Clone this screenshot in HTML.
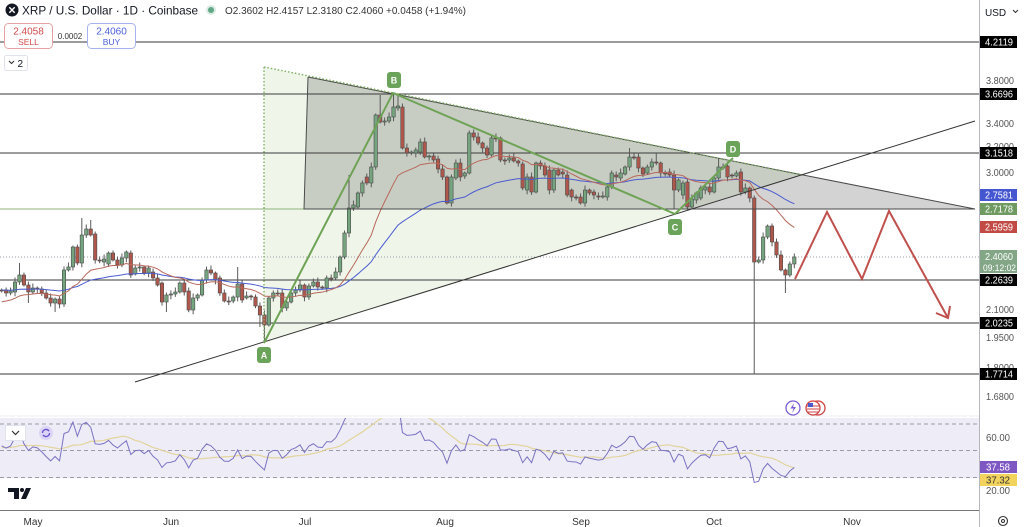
<!DOCTYPE html>
<html><head><meta charset="utf-8">
<style>
html,body{margin:0;padding:0;background:#fff;}
body{width:1024px;height:527px;overflow:hidden;position:relative;font-family:"Liberation Sans",sans-serif;}
svg{position:absolute;left:0;top:0;}
</style></head><body>
<svg id="s" width="1024" height="527" viewBox="0 0 1024 527" xmlns="http://www.w3.org/2000/svg" font-family="'Liberation Sans', sans-serif">
<defs>
<clipPath id="cm"><rect x="0" y="0" width="979" height="412"/></clipPath>
<clipPath id="cr"><rect x="0" y="418" width="979" height="92"/></clipPath>
</defs>
<rect x="0" y="0" width="1024" height="527" fill="#fff"/>
<!-- triangles fills -->
<polygon points="264,67 264,343 802,175" fill="rgba(140,190,100,0.14)"/>
<polygon points="308,77 975,209 304,209" fill="rgba(110,110,110,0.30)"/>
<!-- price dotted line -->
<line x1="0" y1="257" x2="979" y2="257" stroke="#9aa0a8" stroke-width="1" stroke-dasharray="1 2"/>
<!-- horizontal levels -->
<g stroke="#3a3a3a" stroke-width="1">
<line x1="0" y1="42" x2="979" y2="42"/>
<line x1="0" y1="94" x2="979" y2="94"/>
<line x1="0" y1="153" x2="979" y2="153"/>
<line x1="0" y1="280" x2="979" y2="280"/>
<line x1="0" y1="323" x2="979" y2="323"/>
<line x1="0" y1="374" x2="979" y2="374"/>
</g>
<line x1="0" y1="209" x2="304" y2="209" stroke="#8fb27a" stroke-width="1"/>
<!-- candles & MAs -->
<g id="cd" clip-path="url(#cm)"></g>
<g id="ma" clip-path="url(#cm)"></g>
<!-- triangle edges -->
<g stroke="#4a4a4a" stroke-width="1" fill="none">
<polyline points="308,77 975,209 304,209 308,77"/>
</g>
<line x1="264" y1="67" x2="802" y2="175" stroke="#7fae62" stroke-width="1.4" stroke-dasharray="1.5 2"/>
<line x1="264" y1="67" x2="264" y2="343" stroke="#7fae62" stroke-width="1.4" stroke-dasharray="1.5 2"/>
<line x1="135" y1="382" x2="975" y2="121" stroke="#333" stroke-width="1"/>
<!-- ABCD -->
<polyline points="264,343 393,93 675,214 733,158" fill="none" stroke="#6ea356" stroke-width="2"/>
<g font-size="9" font-weight="bold" fill="#fff" text-anchor="middle">
<rect x="257" y="347" width="14" height="16" rx="3" fill="#6ca35a"/><text x="264" y="358.5">A</text>
<rect x="387" y="72" width="14" height="16" rx="3" fill="#6ca35a"/><text x="394" y="83.5">B</text>
<rect x="668" y="219" width="14" height="16" rx="3" fill="#6ca35a"/><text x="675" y="230.5">C</text>
<rect x="726" y="141" width="14" height="16" rx="3" fill="#6ca35a"/><text x="733" y="152.5">D</text>
</g>
<!-- red projection -->
<polyline points="795,279 827,212 862,279 889,211 948,318" fill="none" stroke="#c0504d" stroke-width="2" stroke-linejoin="miter"/>
<polyline points="936,313 948,318 950,306" fill="none" stroke="#c0504d" stroke-width="2"/>
<!-- RSI pane -->
<line x1="0" y1="416" x2="979" y2="416" stroke="#ececf0" stroke-width="1"/>
<rect x="0" y="418" width="979" height="60" fill="#eeedf7"/>
<g stroke="#9a9aa8" stroke-width="1" stroke-dasharray="4 3">
<line x1="0" y1="424" x2="979" y2="424"/>
<line x1="0" y1="450.5" x2="979" y2="450.5"/>
<line x1="0" y1="477.5" x2="979" y2="477.5"/>
</g>
<g id="rsi" clip-path="url(#cr)"></g>
<rect x="5.5" y="425.5" width="20" height="15" fill="#fff" stroke="#e0e3eb"/>
<polyline points="12,431 15.5,434.5 19,431" fill="none" stroke="#333" stroke-width="1.2"/>
<circle cx="46" cy="433" r="7" fill="#dcd4f6"/>
<path d="M42.5,433 a3.5,3.5 0 0 1 6.5,-1.8 M49.5,433 a3.5,3.5 0 0 1 -6.5,1.8" fill="none" stroke="#6a4fd0" stroke-width="1.3"/>
<!-- event icons -->
<circle cx="793" cy="408" r="7" fill="#fff" stroke="#7b5cd6" stroke-width="1.3"/>
<path d="M794,403 L790.5,408.5 L793.5,408.5 L792,413 L796,407 L793,407 Z" fill="#7b5cd6"/>
<circle cx="818" cy="408" r="7" fill="#fff" stroke="#d04040" stroke-width="1.3"/>
<circle cx="813" cy="408" r="7" fill="#fff" stroke="#d04040" stroke-width="1.3"/>
<g stroke="#d04040" stroke-width="1"><line x1="807" y1="406" x2="819" y2="406"/><line x1="807" y1="409" x2="819" y2="409"/><line x1="808" y1="412" x2="818" y2="412"/></g>
<rect x="808" y="403" width="5" height="4" fill="#4a5bd0"/>
<!-- TV logo -->
<g fill="#131722">
<path d="M8,488 H19 V499 H14 V492 H8 Z"/>
<circle cx="22" cy="490" r="2"/>
<path d="M26,488 H31 L26,499 H21 Z"/>
</g>
<!-- axes -->
<line x1="979.5" y1="0" x2="979.5" y2="527" stroke="#b5b8c0" stroke-width="1"/>
<line x1="0" y1="510.5" x2="979" y2="510.5" stroke="#777" stroke-width="1"/>
<g font-size="10" fill="#333" text-anchor="middle">
<text x="33" y="525">May</text>
<text x="171" y="525">Jun</text>
<text x="305" y="525">Jul</text>
<text x="445" y="525">Aug</text>
<text x="581" y="525">Sep</text>
<text x="714" y="525">Oct</text>
<text x="852" y="525">Nov</text>
</g>
<circle cx="1003" cy="521" r="4.5" fill="none" stroke="#333" stroke-width="1.1"/>
<circle cx="1003" cy="521" r="1.5" fill="none" stroke="#333" stroke-width="1"/>
<!-- price axis -->
<text x="985" y="16" font-size="10" fill="#131722">USD</text>
<polyline points="1013,10 1015.5,12.5 1018,10" fill="none" stroke="#333" stroke-width="1"/>
<g font-size="10" fill="#555">
<text x="986" y="84" textLength="28" lengthAdjust="spacingAndGlyphs">3.8000</text>
<text x="986" y="127" textLength="28" lengthAdjust="spacingAndGlyphs">3.4000</text>
<text x="986" y="150" textLength="28" lengthAdjust="spacingAndGlyphs">3.2000</text>
<text x="986" y="176" textLength="28" lengthAdjust="spacingAndGlyphs">3.0000</text>
<text x="986" y="313" textLength="28" lengthAdjust="spacingAndGlyphs">2.1000</text>
<text x="986" y="341" textLength="28" lengthAdjust="spacingAndGlyphs">1.9500</text>
<text x="986" y="371" textLength="28" lengthAdjust="spacingAndGlyphs">1.8000</text>
<text x="986" y="400" textLength="28" lengthAdjust="spacingAndGlyphs">1.6800</text>
<text x="986" y="441" textLength="24" lengthAdjust="spacingAndGlyphs">60.00</text>
<text x="986" y="494" textLength="24" lengthAdjust="spacingAndGlyphs">20.00</text>
</g>
<g font-size="10" fill="#fff">
<rect x="980" y="36" width="37" height="12" fill="#000"/><text x="985" y="45.5" textLength="28" lengthAdjust="spacingAndGlyphs">4.2119</text>
<rect x="980" y="88" width="37" height="12" fill="#000"/><text x="985" y="97.5" textLength="28" lengthAdjust="spacingAndGlyphs">3.6696</text>
<rect x="980" y="147" width="37" height="12" fill="#000"/><text x="985" y="156.5" textLength="28" lengthAdjust="spacingAndGlyphs">3.1518</text>
<rect x="980" y="189" width="37" height="12" fill="#4456d0"/><text x="985" y="198.5" textLength="28" lengthAdjust="spacingAndGlyphs">2.7581</text>
<rect x="980" y="203" width="37" height="12" fill="#6f9a62"/><text x="985" y="212.5" textLength="28" lengthAdjust="spacingAndGlyphs">2.7178</text>
<rect x="980" y="221" width="37" height="12" fill="#c24a45"/><text x="985" y="230.5" textLength="28" lengthAdjust="spacingAndGlyphs">2.5959</text>
<rect x="980" y="250" width="37" height="23" fill="#82a686"/><text x="985" y="260" textLength="28" lengthAdjust="spacingAndGlyphs">2.4060</text><text x="983" y="271" font-size="9.5" textLength="33" lengthAdjust="spacingAndGlyphs">09:12:02</text>
<rect x="980" y="274" width="37" height="12" fill="#000"/><text x="985" y="283.5" textLength="28" lengthAdjust="spacingAndGlyphs">2.2639</text>
<rect x="980" y="317" width="37" height="12" fill="#000"/><text x="985" y="326.5" textLength="28" lengthAdjust="spacingAndGlyphs">2.0235</text>
<rect x="980" y="368" width="37" height="12" fill="#000"/><text x="985" y="377.5" textLength="28" lengthAdjust="spacingAndGlyphs">1.7714</text>
<rect x="980" y="461" width="37" height="12" fill="#7e57c2"/><text x="986" y="470.5" textLength="24" lengthAdjust="spacingAndGlyphs">37.58</text>
<rect x="980" y="474" width="37" height="12" fill="#f2d35e"/><text x="986" y="483.5" fill="#333" textLength="24" lengthAdjust="spacingAndGlyphs">37.32</text>
</g>
<!-- header -->
<circle cx="12" cy="10" r="6.5" fill="#131722"/>
<path d="M9.3,7.3 L14.7,12.7 M14.7,7.3 L9.3,12.7" stroke="#fff" stroke-width="1.4"/>
<text x="22" y="14.5" font-size="12" fill="#131722" textLength="176" lengthAdjust="spacingAndGlyphs">XRP / U.S. Dollar · 1D · Coinbase</text>
<circle cx="211" cy="10" r="5" fill="#dcebe3"/>
<circle cx="211" cy="10" r="3" fill="#5fa785"/>
<text x="225" y="14" font-size="10.5" fill="#333" textLength="241" lengthAdjust="spacingAndGlyphs">O2.3602 H2.4157 L2.3180 C2.4060 +0.0458 (+1.94%)</text>
<rect x="4.5" y="23.5" width="48" height="25" rx="4" fill="#fff" stroke="#e6a3a3"/>
<text x="28.5" y="34.5" font-size="10" fill="#d24a4a" text-anchor="middle">2.4058</text>
<text x="28.5" y="45" font-size="8.5" fill="#d24a4a" text-anchor="middle">SELL</text>
<text x="70" y="39" font-size="8" fill="#333" text-anchor="middle">0.0002</text>
<rect x="87.5" y="23.5" width="48" height="25" rx="4" fill="#fff" stroke="#a7b3ec"/>
<text x="111.5" y="34.5" font-size="10" fill="#4a5fd8" text-anchor="middle">2.4060</text>
<text x="111.5" y="45" font-size="8.5" fill="#4a5fd8" text-anchor="middle">BUY</text>
<rect x="4.5" y="55.5" width="23" height="15" rx="2" fill="#fff" stroke="#e0e3eb"/>
<polyline points="9,61 11.5,63.5 14,61" fill="none" stroke="#333" stroke-width="1.1"/>
<text x="17.5" y="67" font-size="10" fill="#131722">2</text>
</svg>
<script>
(function(){
var D="290,291;290,293;293,291;292,282;282,275,263;275,285;285,292,,303;292,288;288,289;289,293;293,298;298,303;303,299,,312;299,304;304,270;270,267;267,247;247,263;263,235,218;235,229;229,235,220;234,260;260,261;262,259;264,253;253,260;260,265;265,258;258,252;253,275;274,268;268,267;267,273;273,268;272,278;278,285;283,302;302,295,,312;295,294;294,292;292,283;283,292;291,310;310,298;298,295;295,280;280,270;270,273;273,280;278,293;293,301;301,301.5;301,297;297,284,267;284,300;298,296;296,296.5;297,306;306,315,,327;315,325,,343;325,298;298,293;293,293.5;293,308;308,302;302,293;293,290;290,285;285,297;297,286;286,282;282,287;287,287.5;288,278;278,278.5;278,272;272,257;257,233;233,208,175;208,205;207,193;193,183;177,183;183,167;167,115;115,122,95;122,121;121,117;117,107,93;108,106,94;107,148;148,153;153,152;153,150;152,142;142,157;157,156;156,160;159,169;169,177;177,203;203,177;178,163;163,177;176,173;173,133;133,137;137,143;143,148;148,155;155,138;138,138.5;138,160;160,160.5;160,158;158,161;161,163;164,188;190,177;177,192;192,163;163,166;166,175;170,190;190,170;170,175;172,174;175,195;190,197;197,197.5;197,203;203,190;190,193;192,195;196,197;197,196;197,187;187,173;175,177;178,173;174,167;167,157,148;157,157.5;157,168;168,174;173,167;167,162;162,163,153;163,173;173,173.5;172,175;175,190,,209;190,180;195,183;182,207;207,199;200,193;198,188;190,187;187,192;192,178;178,167,158;167,167.5;166,177;175,175.5;176,173;172,192;192,188;188,198;198,262,,374;262,260;260,237;237,226;226,242;242,255;255,270;270,275,,293;275,264;264,257";
var A=D.split(';').map(function(s){return s.split(',').map(function(v){return v===''?null:+v;});});
function X(n){return 1.67+4.453*n;}
function P(y){return Math.exp(1.4379-(y-42)/383.3);}
function Y(p){return 42+(1.4379-Math.log(p))*383.3;}
var ns='http://www.w3.org/2000/svg';
var cd='';
A.forEach(function(c,i){
 var o=c[0],cl=c[1],h=c[2],l=c[3];
 var x=X(i),top=Math.min(o,cl),bot=Math.max(o,cl);
 var hh=(h!=null&&h!==undefined)?h:top-1.5-((i*37)%4);
 var ll=(l!=null&&l!==undefined)?l:bot+1.5+((i*13)%5)*0.7;
 var up=cl<o;
 cd+='<line x1="'+x.toFixed(2)+'" y1="'+hh.toFixed(1)+'" x2="'+x.toFixed(2)+'" y2="'+ll.toFixed(1)+'" stroke="#5a5a5a" stroke-width="1"/>';
 cd+='<rect x="'+(x-1.7).toFixed(2)+'" y="'+top.toFixed(1)+'" width="3.4" height="'+Math.max(bot-top,1).toFixed(1)+'" fill="'+(up?'#74a57e':'#b0574c')+'" stroke="#4a4a4a" stroke-width="0.6"/>';
});
document.getElementById('cd').innerHTML=cd;
// EMAs
var e20=P(303),e50=P(290),k20=2/21,k50=2/51,p20=[],p50=[];
A.forEach(function(c,i){var p=P(c[1]);e20=e20+(p-e20)*k20;e50=e50+(p-e50)*k50;p20.push(X(i).toFixed(2)+','+Y(e20).toFixed(2));p50.push(X(i).toFixed(2)+','+Y(e50).toFixed(2));});
document.getElementById('ma').innerHTML='<polyline points="'+p50.join(' ')+'" fill="none" stroke="#4a5bd0" stroke-width="1"/><polyline points="'+p20.join(' ')+'" fill="none" stroke="#b8685c" stroke-width="1"/>';
// RSI
var ag=0.016,al=0.0135,prev=P(290),buf=[],pr=[],pm=[];
for(var j=0;j<14;j++)buf.push(52);
A.forEach(function(c,i){
 var p=P(c[1]),d=p-prev;prev=p;
 var g=d>0?d:0,lo=d<0?-d:0;
 ag=(ag*13+g)/14;al=(al*13+lo)/14;
 var r=100-100/(1+ag/al);
 buf.push(r);buf.shift();
 var m=buf.reduce(function(a,b){return a+b;},0)/14;
 pr.push(X(i).toFixed(2)+','+(450.5-(r-50)*1.35).toFixed(2));
 pm.push(X(i).toFixed(2)+','+(450.5-(m-50)*1.35).toFixed(2));
});
document.getElementById('rsi').innerHTML='<polyline points="'+pm.join(' ')+'" fill="none" stroke="#e3d49c" stroke-width="1.2"/><polyline points="'+pr.join(' ')+'" fill="none" stroke="#7a72c2" stroke-width="1"/>';
})();
</script>
</body></html>
